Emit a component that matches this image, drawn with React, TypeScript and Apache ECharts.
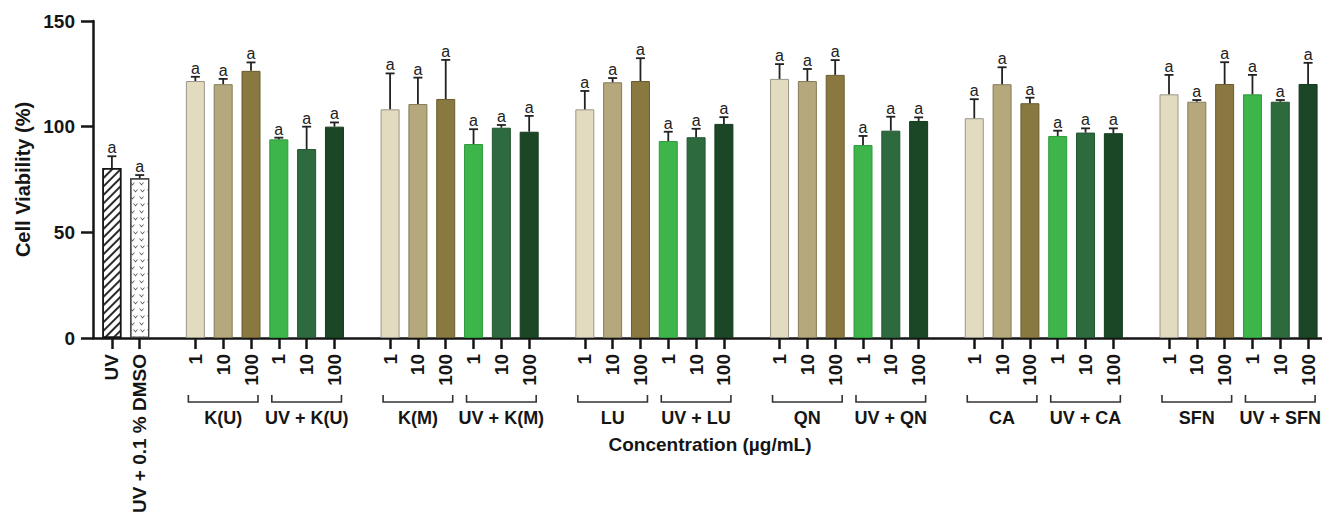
import React, { useEffect, useRef } from "react";
import * as echarts from "echarts";

// ---------- data ----------
const controlLabels = ["UV", "UV + 0.1 % DMSO"];
const controlMeans = [80.5, 75.6];
const controlErr = [5.5, 1.5];

const compounds = ["K(U)", "K(M)", "LU", "QN", "CA", "SFN"];
const concentrations = ["1", "10", "100"];

// per compound: [1, 10, 100 (alone), 1, 10, 100 (UV + compound)]
const meansKU = [121.6, 120.1, 126.4, 94.0, 89.4, 100.0];
const errKU = [2.0, 2.5, 4.0, 0.8, 10.6, 2.0];
const meansKM = [108.2, 110.7, 113.1, 91.8, 99.5, 97.6];
const errKM = [17.0, 12.5, 18.5, 7.0, 1.3, 7.5];
const meansLU = [108.2, 121.0, 121.6, 93.2, 95.0, 101.3];
const errLU = [8.7, 2.0, 10.8, 4.4, 4.0, 3.2];
const meansQN = [122.6, 121.6, 124.5, 91.3, 98.1, 102.7];
const errQN = [7.0, 5.7, 7.0, 4.3, 6.6, 1.7];
const meansCA = [104.0, 120.1, 111.1, 95.6, 97.2, 96.9];
const errCA = [9.0, 8.0, 2.6, 2.5, 2.0, 2.3];
const meansSFN = [115.3, 111.8, 120.2, 115.3, 111.8, 120.2];
const errSFN = [9.2, 0.8, 10.3, 9.2, 0.8, 10.0];

const groupMeans = [meansKU, meansKM, meansLU, meansQN, meansCA, meansSFN];
const groupErrs = [errKU, errKM, errLU, errQN, errCA, errSFN];
const sigLetter = "a";

const yTicks = [0, 50, 100, 150];

// ---------- styles ----------
const FONT = "'Liberation Sans', Arial, Helvetica, sans-serif";
const INK = "#151515";
const aloneColors = ["#e3dbbf", "#b5a87d", "#8a7841"];
const aloneBorders = ["#9a958a", "#857a58", "#6a5c2f"];
const uvColors = ["#3db54b", "#2d6b3e", "#1c4726"];
const uvBorders = ["#2f9a3c", "#225532", "#133a1c"];

export default function App() {
  const ref = useRef<HTMLDivElement>(null);

  useEffect(() => {
    if (!ref.current) return;
    const chart = echarts.init(ref.current, undefined, { renderer: "svg" });

    const categories: string[] = [];
    const barData: any[] = [];
    const errData: any[] = [];
    const bracketData: any[] = [];
    const bracketLabels: string[] = [];

    controlLabels.forEach((lab, i) => {
      const idx = categories.length;
      categories.push(lab);
      const style =
        i === 0
          ? {
              color: "#ffffff",
              borderColor: INK,
              borderWidth: 1.5,
              decal: {
                symbol: "rect",
                symbolSize: 1,
                color: "#2a2a2a",
                backgroundColor: "#ffffff",
                dashArrayX: [1, 0],
                dashArrayY: [1.6, 3.2],
                rotation: -Math.PI / 4,
              },
            }
          : {
              color: "#ffffff",
              borderColor: "#444",
              borderWidth: 1.2,
              decal: {
                symbol: "path://M0,0L5,6L10,0L8,0L5,3.4L2,0Z",
                symbolSize: 1,
                color: "#555555",
                backgroundColor: "#ffffff",
                dashArrayX: [[5, 1.5], [0, 3.2, 5, 0]],
                dashArrayY: [4, 2.5],
                rotation: 0,
              },
            };
      barData.push({ value: controlMeans[i], itemStyle: style });
      errData.push([idx, controlMeans[i], controlErr[i]]);
    });

    compounds.forEach((c, g) => {
      categories.push("");
      barData.push(null);
      for (let half = 0; half < 2; half++) {
        const start = categories.length;
        concentrations.forEach((conc, k) => {
          const j = half * 3 + k;
          const idx = categories.length;
          categories.push(conc);
          barData.push({
            value: groupMeans[g][j],
            itemStyle: {
              color: half === 0 ? aloneColors[k] : uvColors[k],
              borderColor: half === 0 ? aloneBorders[k] : uvBorders[k],
              borderWidth: 1,
            },
          });
          errData.push([idx, groupMeans[g][j], groupErrs[g][j]]);
        });
        bracketData.push([start, 0, categories.length - 1]);
        bracketLabels.push(half === 0 ? c : "UV + " + c);
      }
    });

    const option: any = {
      animation: false,
      backgroundColor: "#ffffff",
      grid: [
        { left: 98, right: 0, top: 21, bottom: 181, containLabel: false, outerBoundsMode: "none" },
        { left: 93, right: 0, top: 21, bottom: 181, containLabel: false, outerBoundsMode: "none" },
      ],
      xAxis: [
        {
          type: "category",
          gridIndex: 0,
          data: categories,
          boundaryGap: true,
          axisLine: { show: false },
          axisTick: {
            show: true,
            alignWithLabel: true,
            length: 11,
            lineStyle: { color: INK, width: 2.5 },
            interval: (_i: number, v: string) => v !== "",
          },
          axisLabel: {
            interval: 0,
            rotate: 90,
            margin: 16,
            fontFamily: FONT,
            fontWeight: "bold",
            fontSize: 19,
            color: INK,
          },
          name: "Concentration (µg/mL)",
          nameLocation: "middle",
          nameGap: 97,
          nameMoveOverlap: false,
          nameTextStyle: {
            fontFamily: FONT,
            fontWeight: "bold",
            fontSize: 19,
            color: INK,
          },
          splitLine: { show: false },
        },
        {
          type: "value",
          gridIndex: 1,
          min: 0,
          max: 1,
          axisLine: { show: true, onZero: false, lineStyle: { color: INK, width: 2.5 } },
          axisTick: { show: false },
          axisLabel: { show: false },
          splitLine: { show: false },
        },
      ],
      yAxis: [
        {
          type: "value",
          gridIndex: 0,
          min: 0,
          max: 150,
          show: false,
          splitLine: { show: false },
        },
        {
          type: "value",
          gridIndex: 1,
          min: yTicks[0],
          max: yTicks[yTicks.length - 1],
          interval: yTicks[1] - yTicks[0],
          axisLine: { show: true, lineStyle: { color: INK, width: 2.5 } },
          axisTick: { show: true, length: 12, lineStyle: { color: INK, width: 2.5 } },
          axisLabel: {
            margin: 18,
            fontFamily: FONT,
            fontWeight: "bold",
            fontSize: 19,
            color: INK,
          },
          splitLine: { show: false },
          name: "Cell Viability (%)",
          nameLocation: "middle",
          nameGap: 60,
          nameRotate: 90,
          nameMoveOverlap: false,
          nameTextStyle: {
            fontFamily: FONT,
            fontWeight: "bold",
            fontSize: 20,
            color: INK,
          },
        },
      ],
      series: [
        {
          type: "bar",
          xAxisIndex: 0,
          yAxisIndex: 0,
          data: barData,
          barWidth: 19,
          silent: true,
        },
        {
          type: "custom",
          xAxisIndex: 0,
          yAxisIndex: 0,
          data: errData,
          encode: { x: 0, y: 1 },
          clip: false,
          silent: true,
          z: 5,
          renderItem: (_p: any, api: any) => {
            const x = api.value(0);
            const m = api.value(1);
            const e = api.value(2);
            const b = api.coord([x, m]);
            const t = api.coord([x, m + e]);
            return {
              type: "group",
              children: [
                {
                  type: "line",
                  shape: { x1: b[0], y1: b[1], x2: b[0], y2: t[1] },
                  style: { stroke: "#222", lineWidth: 1.8 },
                },
                {
                  type: "line",
                  shape: { x1: b[0] - 4.5, y1: t[1], x2: b[0] + 4.5, y2: t[1] },
                  style: { stroke: "#222", lineWidth: 1.8 },
                },
                {
                  type: "text",
                  x: b[0],
                  y: t[1] - 0.5,
                  style: {
                    text: sigLetter,
                    fill: "#222",
                    font: `16px ${FONT}`,
                    textAlign: "center",
                    textVerticalAlign: "bottom",
                  },
                },
              ],
            };
          },
        },
        {
          type: "custom",
          xAxisIndex: 0,
          yAxisIndex: 0,
          data: bracketData,
          encode: { x: 0, y: 1 },
          clip: false,
          silent: true,
          renderItem: (p: any, api: any) => {
            const s = api.coord([api.value(0), 0]);
            const e = api.coord([api.value(2), 0]);
            const y = s[1] + 64;
            const x1 = s[0] - 7;
            const x2 = e[0] + 7;
            return {
              type: "group",
              children: [
                {
                  type: "polyline",
                  shape: {
                    points: [
                      [x1, y - 7],
                      [x1, y],
                      [x2, y],
                      [x2, y - 7],
                    ],
                  },
                  style: { stroke: "#333", lineWidth: 1.6, fill: "none" },
                },
                {
                  type: "text",
                  x: (s[0] + e[0]) / 2,
                  y: y + 16,
                  style: {
                    text: bracketLabels[p.dataIndex],
                    fill: INK,
                    font: `bold 18px ${FONT}`,
                    textAlign: "center",
                    textVerticalAlign: "middle",
                  },
                },
              ],
            };
          },
        },
      ],
    };

    chart.setOption(option);
    return () => chart.dispose();
  }, []);

  return (
    <div
      ref={ref}
      style={{ position: "fixed", left: 0, top: 0, width: 1322, height: 519, background: "#fff" }}
    />
  );
}
